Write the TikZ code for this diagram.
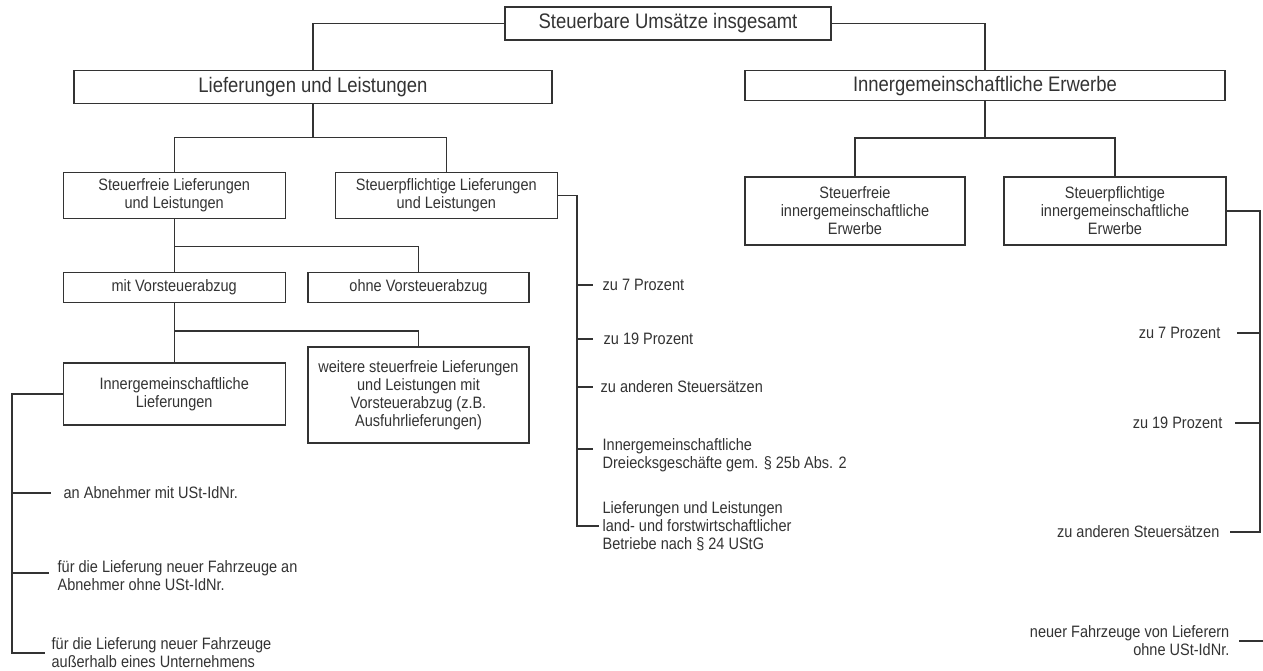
\documentclass[tikz,border=0pt]{standalone}
\usepackage{fontspec}
\setmainfont{Liberation Sans}[FakeStretch=0.88]
\definecolor{linegray}{HTML}{333333}
\newcommand{\bigsize}{\fontsize{21}{24}\selectfont}
\newcommand{\smallsize}{\fontsize{16.5}{18}\selectfont}

\begin{document}
\begin{tikzpicture}[x=1pt, y=-1pt, line width=1.3pt, color=linegray,
    ubox/.style={draw, inner sep=0pt, align=center, font=\smallsize},
    bigbox/.style={ubox, font=\bigsize},
    lbl/.style={inner sep=0pt, align=left, font=\smallsize}]
    \useasboundingbox (0,0) rectangle (1263,671);

    % Top box
    \node[bigbox, minimum width=326pt, minimum height=33pt] (top) at (668,23.5) {Steuerbare Umsätze insgesamt};

    % Second level
    \node[bigbox, minimum width=478pt, minimum height=33pt] (lief) at (313,87.3) {Lieferungen und Leistungen};
    \node[bigbox, minimum width=480pt, minimum height=30pt] (erw) at (985,85.7) {Innergemeinschaftliche Erwerbe};
    \draw (top.west) -| (lief.north);
    \draw (top.east) -| (erw.north);

    % Left branch
    \node[ubox, minimum width=222pt, minimum height=46pt] (frei) at (174.2,195.2) {Steuerfreie Lieferungen\\und Leistungen};
    \node[ubox, minimum width=222pt, minimum height=46pt] (pfl) at (446.3,195.2) {Steuerpflichtige Lieferungen\\und Leistungen};
    \coordinate (jl) at (313,137.3);
    \draw (lief) -- (jl);
    \draw (frei.north) |- (jl) -| (pfl.north);

    \node[ubox, minimum width=222pt, minimum height=30pt] (mit) at (174.2,287.7) {mit Vorsteuerabzug};
    \node[ubox, minimum width=221pt, minimum height=30pt] (ohne) at (418.5,287.7) {ohne Vorsteuerabzug};
    \coordinate (jf) at (174.2,246.7);
    \draw (frei) -- (mit);
    \draw (jf) -| (ohne.north);

    \node[ubox, minimum width=222pt, minimum height=62pt] (igl) at (174.2,394) {Innergemeinschaftliche\\Lieferungen};
    \node[ubox, minimum width=221pt, minimum height=96pt] (weit) at (418.5,395) {weitere steuerfreie Lieferungen\\und Leistungen mit\\Vorsteuerabzug (z.B.\\Ausfuhrlieferungen)};
    \coordinate (jm) at (174.2,331);
    \draw (mit) -- (igl);
    \draw (jm) -| (weit.north);

    % Left bracket
    \node[lbl, anchor=west] (ab1) at (63,493) {an Abnehmer mit USt-IdNr.};
    \node[lbl, anchor=west] (ab2) at (57,576) {für die Lieferung neuer Fahrzeuge an\\Abnehmer ohne USt-IdNr.};
    \node[lbl, anchor=west] (ab3) at (51,653) {für die Lieferung neuer Fahrzeuge\\außerhalb eines Unternehmens};
    \coordinate (bl) at (12,653);
    \coordinate (ab2t) at ([yshift=3pt]ab2.west);
    \draw (igl.west) -| (bl) -- ([xshift=-6pt]ab3.west);
    \draw (ab1.west -| bl) -- ([xshift=-12pt]ab1.west);
    \draw (ab2t -| bl) -- ([xshift=-8pt]ab2t);

    % Middle bracket
    \node[lbl, anchor=west] (m1) at (602,285) {zu 7 Prozent};
    \node[lbl, anchor=west] (m2) at (603,339) {zu 19 Prozent};
    \node[lbl, anchor=west] (m3) at (600,387) {zu anderen Steuersätzen};
    \node[lbl, anchor=west] (m4) at (602,455) {Innergemeinschaftliche\\Dreiecksgeschäfte gem. § 25b Abs. 2};
    \node[lbl, anchor=west] (m5) at (602,526) {Lieferungen und Leistungen\\land- und forstwirtschaftlicher\\Betriebe nach § 24 UStG};
    \coordinate (bm) at (577,526);
    \coordinate (m4t) at ([yshift=6pt]m4.west);
    \draw (pfl.east) -| (bm) -- ([xshift=-3pt]m5.west);
    \draw (m1.west -| bm) -- ([xshift=-9pt]m1.west);
    \draw (m2.west -| bm) -- ([xshift=-10pt]m2.west);
    \draw (m3.west -| bm) -- ([xshift=-7pt]m3.west);
    \draw (m4t -| bm) -- ([xshift=-9pt]m4t);

    % Right branch
    \node[ubox, minimum width=220pt, minimum height=68pt] (efrei) at (855,211) {Steuerfreie\\innergemeinschaftliche\\Erwerbe};
    \node[ubox, minimum width=222pt, minimum height=68pt] (epfl) at (1115,211) {Steuerpflichtige\\innergemeinschaftliche\\Erwerbe};
    \coordinate (jr) at (985,138);
    \draw (erw) -- (jr);
    \draw (efrei.north) |- (jr) -| (epfl.north);

    % Right bracket
    \node[lbl, anchor=east] (r1) at (1221,333) {zu 7 Prozent};
    \node[lbl, anchor=east] (r2) at (1223,423) {zu 19 Prozent};
    \node[lbl, anchor=east] (r3) at (1220,532) {zu anderen Steuersätzen};
    \node[lbl, anchor=east, align=right] (r4) at (1230,641) {neuer Fahrzeuge von Lieferern\\ohne USt-IdNr.};
    \coordinate (br) at (1260,532);
    \draw (epfl.east) -| (br) -- ([xshift=10pt]r3.east);
    \draw (r1.east -| br) -- ([xshift=16pt]r1.east);
    \draw (r2.east -| br) -- ([xshift=12pt]r2.east);
    \draw ([xshift=9pt]r4.east) -- ++(24,0);
\end{tikzpicture}
\end{document}
